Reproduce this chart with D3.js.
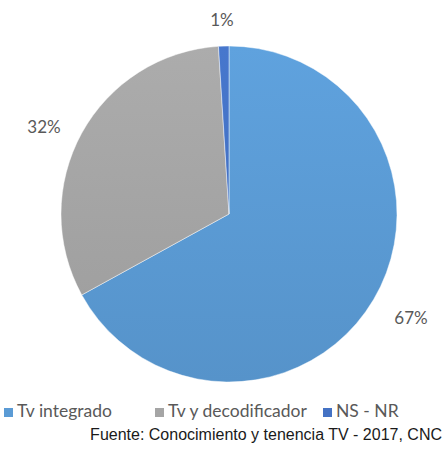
<!DOCTYPE html>
<html>
<head>
<meta charset="utf-8">
<script src="https://cdn.jsdelivr.net/npm/d3@7"></script>
<style>
  html, body { margin: 0; padding: 0; background: #fff; }
  svg { display: block; }
</style>
</head>
<body>
<svg id="chart" width="447" height="452"></svg>
<script>
const categories = ["Tv integrado", "Tv y decodificador", "NS - NR"];
const values = [67, 32, 1];
const labels = ["67%", "32%", "1%"];
const colors = ["#5B9BD5", "#A5A5A5", "#4472C4"];
const source = "Fuente: Conocimiento y tenencia TV - 2017, CNC";

const svg = d3.select("#chart");
const cx = 229, cy = 214, r = 168;

const defs = svg.append("defs");
colors.forEach((c, i) => {
  const g = defs.append("linearGradient").attr("id", "g" + i)
    .attr("gradientUnits", "userSpaceOnUse")
    .attr("x1", 0).attr("y1", -r).attr("x2", 0).attr("y2", r);
  g.append("stop").attr("offset", "0%").attr("stop-color", d3.color(c).brighter(0.12));
  g.append("stop").attr("offset", "100%").attr("stop-color", d3.color(c).darker(0.15));
});

const pie = d3.pie().sort(null).value(d => d);
const arcs = pie(values);
const arc = d3.arc().innerRadius(0).outerRadius(r);

const g = svg.append("g").attr("transform", `translate(${cx},${cy})`);
g.selectAll("path").data(arcs).enter().append("path")
  .attr("d", arc)
  .attr("fill", (d, i) => `url(#g${i})`)
  .attr("stroke", "#ffffff")
  .attr("stroke-opacity", 0.45)
  .attr("stroke-width", 1);

// data labels outside the pie
const labelPos = [[411, 320], [44, 129], [222, 22]];
svg.selectAll("text.lbl").data(arcs).enter().append("text")
  .attr("class", "lbl")
  .attr("x", (d, i) => labelPos[i][0])
  .attr("y", (d, i) => labelPos[i][1])
  .attr("text-anchor", "middle")
  .attr("dominant-baseline", "middle")
  .attr("font-family", "Lato, 'Open Sans', sans-serif")
  .attr("font-size", 17)
  .attr("fill", "#595959")
  .text((d, i) => labels[i]);

// legend
const legendX = [4, 155, 323];
const legendY = 413;
const lg = svg.selectAll("g.leg").data(categories).enter().append("g")
  .attr("class", "leg")
  .attr("transform", (d, i) => `translate(${legendX[i]},${legendY})`);
lg.append("rect").attr("x", 0).attr("y", -5).attr("width", 9).attr("height", 9)
  .attr("fill", (d, i) => colors[i]);
lg.append("text").attr("x", 13).attr("y", 0)
  .attr("dominant-baseline", "middle")
  .attr("font-family", "Lato, 'Open Sans', sans-serif")
  .attr("font-size", 17.5)
  .attr("fill", "#595959")
  .text(d => d);

svg.append("text")
  .attr("x", 442).attr("y", 436)
  .attr("text-anchor", "end")
  .attr("dominant-baseline", "middle")
  .attr("font-family", "'Liberation Sans', Arial, sans-serif")
  .attr("font-size", 16)
  .attr("fill", "#1a1a1a")
  .text(source);
</script>
</body>
</html>
